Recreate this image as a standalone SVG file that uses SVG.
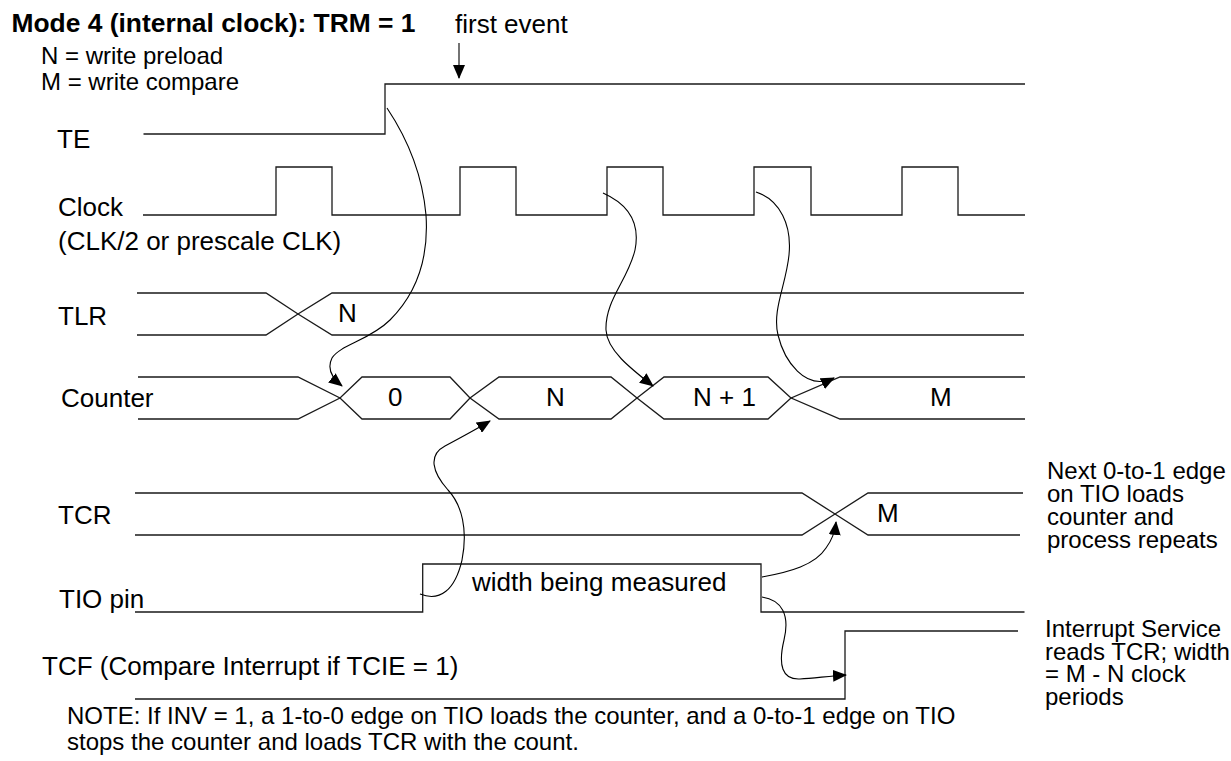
<svg xmlns="http://www.w3.org/2000/svg" width="1231" height="761" viewBox="0 0 1231 761">
<style>
text { font-family: "Liberation Sans", Arial, Helvetica, sans-serif; fill: #000; }
.lbl { font-size: 26px; }
.sm { font-size: 24px; }
.title { font-size: 26.4px; font-weight: bold; }
.sig { fill: none; stroke: #1a1a1a; stroke-width: 1.3; }
.conn { fill: none; stroke: #000; stroke-width: 1.1; marker-end: url(#ah); }
</style>
<defs>
<marker id="ah" viewBox="0 0 14 12" refX="13" refY="6" markerWidth="14" markerHeight="12" markerUnits="userSpaceOnUse" orient="auto">
<path d="M0,0 L14,6 L0,12 z" fill="#000"/>
</marker>
</defs>
<rect width="1231" height="761" fill="#fff"/>

<g id="title">
<text class="title" x="11.5" y="32">Mode 4 (internal clock): TRM = 1</text>
</g>
<g id="legend">
<text class="sm" x="41" y="64">N = write preload</text>
<text class="sm" x="41" y="90">M = write compare</text>
</g>
<g id="first-event">
<text class="lbl" x="455" y="33">first event</text>
</g>

<g id="sig-TE">
<text class="lbl" x="57" y="148">TE</text>
<path class="sig" d="M143.5,134 H385 V84 H1025"/>
</g>
<g id="sig-Clock">
<text class="lbl" x="58" y="216">Clock</text>
<text class="lbl" x="58" y="250">(CLK/2 or prescale CLK)</text>
<path class="sig" d="M143,215 H276 V167 H332 V215 H460 V167 H516 V215 H607 V167 H663 V215 H754 V167 H811 V215 H902 V167 H958 V215 H1025"/>
</g>
<g id="sig-TLR">
<text class="lbl" x="58" y="325">TLR</text>
<path class="sig" d="M137,293 H266 L298,314 L332,335 H1024"/>
<path class="sig" d="M137,335 H266 L298,314 L332,293 H1024"/>
<text class="lbl" x="338" y="322">N</text>
</g>
<g id="sig-Counter">
<text class="lbl" x="61" y="407">Counter</text>
<path class="sig" d="M138,377 H298 L340,398 L362,419 H450 L470,398 L499,377 H611 L637,398 L664,419 H768 L791,398 L840,419 H1025"/>
<path class="sig" d="M138,419 H298 L340,398 L362,377 H450 L470,398 L499,419 H611 L637,398 L664,377 H768 L791,398 L840,377 H1025"/>
<text class="lbl" x="388" y="406">0</text>
<text class="lbl" x="546" y="406">N</text>
<text class="lbl" x="693" y="406">N + 1</text>
<text class="lbl" x="930" y="406">M</text>
</g>
<g id="sig-TCR">
<text class="lbl" x="58" y="524">TCR</text>
<path class="sig" d="M135,493 H802 L835,514 L868,535 H1020"/>
<path class="sig" d="M135,535 H802 L835,514 L868,493 H1023"/>
<text class="lbl" x="877" y="522">M</text>
</g>
<g id="sig-TIO">
<text class="lbl" x="59" y="608">TIO pin</text>
<path class="sig" d="M135,612 H422.7 V564 H761 V612 H1024.5"/>
<text class="lbl" x="472" y="591">width being measured</text>
</g>
<g id="sig-TCF">
<text class="lbl" x="42" y="675">TCF (Compare Interrupt if TCIE = 1)</text>
<path class="sig" d="M135,699 H845 V631 H1018"/>
</g>
<g id="note-next">
<text class="sm" x="1047" y="479">Next 0-to-1 edge</text>
<text class="sm" x="1047" y="502">on TIO loads</text>
<text class="sm" x="1047" y="525">counter and</text>
<text class="sm" x="1047" y="548">process repeats</text>
</g>
<g id="note-isr">
<text class="sm" x="1045" y="637">Interrupt Service</text>
<text class="sm" x="1045" y="659.5">reads TCR; width</text>
<text class="sm" x="1045" y="682">= M - N clock</text>
<text class="sm" x="1045" y="704.5">periods</text>
</g>
<g id="note-inv">
<text class="sm" x="67" y="724">NOTE: If INV = 1, a 1-to-0 edge on TIO loads the counter, and a 0-to-1 edge on TIO</text>
<text class="sm" x="67" y="750">stops the counter and loads TCR with the count.</text>
</g>

<g id="connectors">
<path class="conn" d="M459,43 V78"/>
<path class="conn" d="M387,108 C405,135 422,170 426,215 C429,260 415,295 390,320 C370,340 340,345 332,358 C327,368 332,378 342,386"/>
<path class="conn" d="M603,193 C630,205 640,225 635,250 C628,280 605,300 606,330 C607,350 630,368 653,386"/>
<path class="conn" d="M756,192 C780,200 792,225 789,255 C786,285 772,310 778,335 C784,360 805,392 834,378"/>
<path class="conn" d="M420,594 C440,602 455,590 462,560 C468,530 462,505 448,490 C432,472 428,455 445,446 C460,438 475,430 490,421"/>
<path class="conn" d="M762,577 C790,572 815,565 826,548 C832,540 835,532 836,522"/>
<path class="conn" d="M762,597 C782,600 790,615 784,640 C778,665 782,680 800,679 C815,678 830,676 846,675"/>
</g>
</svg>
